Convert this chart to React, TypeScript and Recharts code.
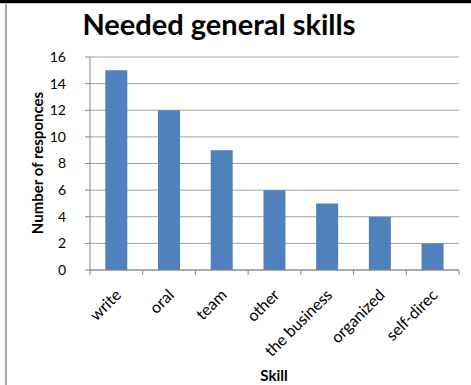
import React from 'react';
import { BarChart, Bar, XAxis, YAxis, CartesianGrid } from 'recharts';

const skills = ['write', 'oral', 'team', 'other', 'the business', 'organized', 'self-direc'];
const responses = [15, 12, 9, 6, 5, 4, 2];
const yTicks = [0, 2, 4, 6, 8, 10, 12, 14, 16];

const data = skills.map((name, i) => ({ name, value: responses[i] }));

const FONT = 'Lato, "Open Sans", sans-serif';
const AXIS_GRAY = '#868686';

// Excel-style category tick: tick marks on band edges, label rotated -45
const SkillTick = (props: any) => {
  const { x, y, payload, index } = props;
  const half = payload && payload.offset ? payload.offset : 26;
  const tx = x + 6;
  const ty = y + 26;
  return (
    <g>
      <line x1={x - half} y1={y} x2={x - half} y2={y + 5} stroke={AXIS_GRAY} />
      {index === skills.length - 1 && (
        <line x1={x + half} y1={y} x2={x + half} y2={y + 5} stroke={AXIS_GRAY} />
      )}
      <text
        x={tx}
        y={ty}
        transform={`rotate(-45, ${tx}, ${ty})`}
        textAnchor="end"
        fontSize={16}
        fontFamily={FONT}
        fill="#000"
      >
        {payload.value}
      </text>
    </g>
  );
};

export default function App() {
  return (
    <div style={{ position: 'absolute', left: 0, top: 0, width: 471, height: 385, background: '#fff', overflow: 'hidden' }}>
      <div style={{ position: 'absolute', left: 0, top: 0, width: 471, height: 3, background: '#000' }} />
      <div style={{ position: 'absolute', left: 0, top: 3, width: 471, height: 1, background: '#c8c8c8' }} />
      <div style={{ position: 'absolute', left: 5, top: 4, width: 2, height: 381, background: '#a6a6a6' }} />

      <BarChart
        width={471}
        height={385}
        data={data}
        margin={{ top: 57, right: 12, bottom: 0, left: 0 }}
        barCategoryGap="29%"
      >
        <CartesianGrid vertical={false} stroke="#a0a0a0" />
        <XAxis
          dataKey="name"
          interval={0}
          height={115}
          tickSize={0}
          tickMargin={0}
          tickLine={false}
          axisLine={{ stroke: AXIS_GRAY }}
          tick={<SkillTick />}
        />
        <YAxis
          width={90}
          domain={[0, 16]}
          ticks={yTicks}
          interval={0}
          tickSize={5}
          tickMargin={19}
          axisLine={{ stroke: AXIS_GRAY }}
          tickLine={{ stroke: AXIS_GRAY }}
          tick={{ fill: '#000', fontSize: 14, fontFamily: FONT }}
        />
        <Bar dataKey="value" fill="#4f81bd" isAnimationActive={false} />
      </BarChart>

      <div style={{ position: 'absolute', left: 0, top: 8, width: 438, textAlign: 'center', fontFamily: FONT, fontWeight: 700, fontSize: 29, color: '#000', lineHeight: '32px' }}>
        Needed general skills
      </div>
      <div
        style={{
          position: 'absolute', left: 37, top: 163, width: 200, marginLeft: -100, marginTop: -10,
          transform: 'rotate(-90deg)', textAlign: 'center', fontFamily: FONT, fontWeight: 700,
          fontSize: 15, color: '#000', lineHeight: '20px'
        }}
      >
        Number of responces
      </div>
      <div style={{ position: 'absolute', left: 174, top: 366, width: 200, textAlign: 'center', fontFamily: FONT, fontWeight: 700, fontSize: 15, color: '#000', lineHeight: '18px' }}>
        Skill
      </div>
    </div>
  );
}
